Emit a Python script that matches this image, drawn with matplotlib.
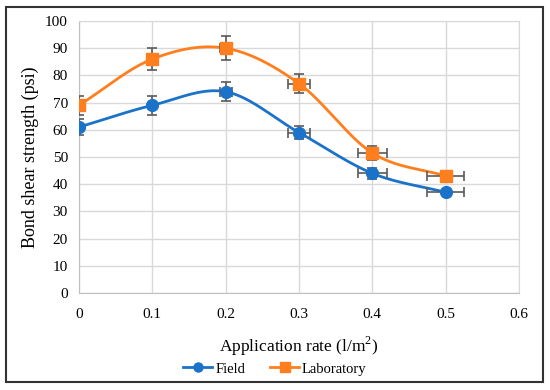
import matplotlib
matplotlib.use("Agg")
import matplotlib.pyplot as plt
import numpy as np
from matplotlib.patches import Rectangle

rates = [0.0, 0.1, 0.2, 0.3, 0.4, 0.5]
field = [61, 69, 74, 59, 44, 37]
lab = [69, 86, 90, 77, 51.5, 43]
field_yerr = [3, 3.5, 3.5, 2.5, 2, 1]
lab_yerr = [3.5, 4, 4.5, 3.5, 2.5, 1.5]
xerr = [0.0, 0.0, 0.008, 0.015, 0.02, 0.025]
xticks = [0, 0.1, 0.2, 0.3, 0.4, 0.5, 0.6]
yticks = list(range(0, 101, 10))

blue = "#1b72c9"
orange = "#ff7f1f"
errc = "#5a5a5a"

plt.rcParams['font.family'] = ['Liberation Serif', 'DejaVu Serif']
plt.rcParams['mathtext.fontset'] = 'custom'
plt.rcParams['mathtext.rm'] = 'Liberation Serif'


def smooth(x, y, n=40):
    # Catmull-Rom spline through the points (Excel-like smoothed line)
    x = np.asarray(x, float); y = np.asarray(y, float)
    px = np.concatenate([[2 * x[0] - x[1]], x, [2 * x[-1] - x[-2]]])
    py = np.concatenate([[2 * y[0] - y[1]], y, [2 * y[-1] - y[-2]]])
    xs, ys = [], []
    t = np.linspace(0, 1, n)
    for i in range(1, len(px) - 2):
        p0, p1, p2, p3 = [np.array([px[j], py[j]]) for j in (i - 1, i, i + 1, i + 2)]
        c1 = p1 + (p2 - p0) / 6
        c2 = p2 - (p3 - p1) / 6
        pts = ((1 - t) ** 3)[:, None] * p1 + (3 * (1 - t) ** 2 * t)[:, None] * c1 \
            + (3 * (1 - t) * t ** 2)[:, None] * c2 + (t ** 3)[:, None] * p2
        xs.extend(pts[:, 0]); ys.extend(pts[:, 1])
    return np.array(xs), np.array(ys)


fig = plt.figure(figsize=(5.5, 3.9), dpi=100)
ax = fig.add_axes([79 / 550, 1 - 293 / 390, (519 - 79) / 550, (293 - 21) / 390])

handles = []
for ys, yerr, col, mk, lbl in [(field, field_yerr, blue, 'o', 'Field'),
                                (lab, lab_yerr, orange, 's', 'Laboratory')]:
    sx, sy = smooth(rates, ys)
    ax.plot(sx, sy, color=col, lw=2, zorder=3)
    ax.errorbar(rates, ys, yerr=yerr, xerr=xerr, fmt='none', ecolor=errc,
                elinewidth=1.2, capsize=3.5, capthick=1.2, zorder=4)
    ax.plot(rates, ys, linestyle='none', marker=mk, markersize=8.5 if mk == 'o' else 8,
            color=col, zorder=5)
    h, = ax.plot([], [], color=col, lw=2, marker=mk, markersize=6.5, label=lbl)
    handles.append(h)

ax.set_xlim(0, 0.6)
ax.set_ylim(0, 100)
ax.set_xticks(xticks)
ax.set_xticklabels(['0', '0.1', '0.2', '0.3', '0.4', '0.5', '0.6'])
ax.set_yticks(yticks)
ax.grid(True, color='#d9d9d9', lw=1)
ax.set_axisbelow(True)
for s in ['top', 'right']:
    ax.spines[s].set_color('#d9d9d9')
for s in ['left', 'bottom']:
    ax.spines[s].set_color('#bfbfbf')
ax.tick_params(axis='y', length=0, labelsize=11, pad=8, colors='black')
ax.tick_params(axis='x', length=0, labelsize=11, pad=11, colors='black')
ax.set_xlabel('Application rate (l/m$^2$)', fontsize=12.5, labelpad=10)
ax.set_ylabel('Bond shear strength (psi)', fontsize=13, labelpad=4)

leg = fig.legend(handles=handles, labels=['Field', 'Laboratory'],
                 loc='center', bbox_to_anchor=(0.5, 1 - 369 / 390), ncol=2,
                 frameon=False, fontsize=10.5, handlelength=2.0,
                 columnspacing=1.7, handletextpad=0.2)

fig.patches.append(Rectangle((6 / 550, 1 - 382 / 390), (543 - 6) / 550, (382 - 7) / 390,
                             transform=fig.transFigure, fill=False,
                             edgecolor='#333333', lw=1.5, zorder=10))

fig.savefig('out.png', dpi=100)
